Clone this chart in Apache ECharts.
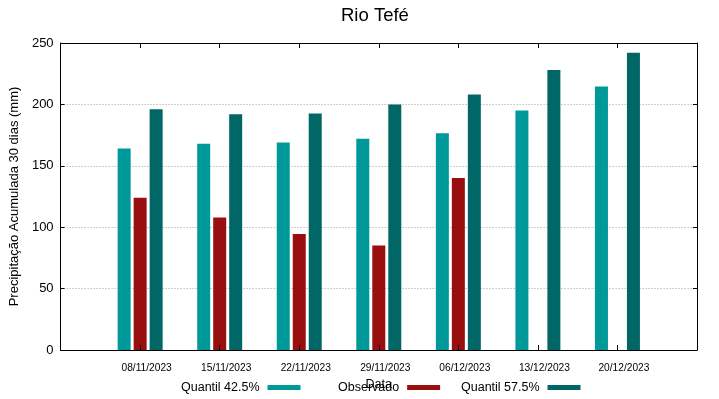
<!DOCTYPE html>
<html>
<head>
<meta charset="utf-8">
<script src="https://cdn.jsdelivr.net/npm/echarts@6/dist/echarts.min.js"></script>
<style>
html, body { margin: 0; padding: 0; background: #fff; }
#demo { width: 719px; height: 399px; }
</style>
</head>
<body>
<div id="demo"></div>
<script>
// dados
var datas = ['08/11/2023', '15/11/2023', '22/11/2023', '29/11/2023', '06/12/2023', '13/12/2023', '20/12/2023'];
var quantil425 = [164, 168, 169, 172, 176.5, 195, 214.5];
var observado = [124, 108, 94.5, 85, 140, null, null];
var quantil575 = [196, 192, 192.5, 200, 208, 228, 242];
var yTicks = [0, 50, 100, 150, 200, 250];
var nomes = ['Quantil 42.5%', 'Observado', 'Quantil 57.5%'];

// uma categoria vazia em cada ponta, para as datas cairem nos ticks 1..7
var categorias = [''].concat(datas, [' ']);
function comPontas(arr) {
    return ['-'].concat(arr.map(function (v) { return v == null ? '-' : v; }), ['-']);
}

var myChart = echarts.init(document.getElementById('demo'));

var fonte = 'Liberation Sans';
var legendaX = [181, 338, 461];

// cada item da legenda numa posicao propria (como no gnuplot)
var legendas = nomes.map(function (n, i) {
    return {
        data: [n],
        left: legendaX[i],
        top: 381,
        padding: 0,
        align: 'right',
        icon: 'rect',
        itemWidth: 33,
        itemHeight: 5,
        textStyle: { fontSize: 12.5, color: '#000', fontFamily: fonte, padding: [0, 3, 0, 0] }
    };
});

function eixoX(pos, comLabel) {
    return {
        type: 'category',
        data: categorias,
        boundaryGap: false,
        position: pos,
        z: 5,
        axisLine: { onZero: false, lineStyle: { color: '#000', width: 1 } },
        axisTick: { inside: true, length: 5, lineStyle: { color: '#000' } },
        axisLabel: { show: comLabel, interval: 0, fontSize: 10.2, color: '#000', margin: 13, padding: [0, 0, 0, 13], fontFamily: fonte },
        splitLine: { show: false }
    };
}

function eixoY(pos) {
    return {
        type: 'value',
        min: yTicks[0],
        max: yTicks[yTicks.length - 1],
        interval: 50,
        position: pos,
        z: 5,
        axisLine: { show: true, onZero: false, lineStyle: { color: '#000', width: 1 } },
        axisTick: { show: true, inside: true, length: 4, lineStyle: { color: '#000' } },
        axisLabel: { show: pos === 'left', fontSize: 13, color: '#000', margin: 7, fontFamily: fonte },
        splitLine: { show: false }
    };
}

var xBase = eixoX('bottom', true);
xBase.name = 'Data';
xBase.nameLocation = 'middle';
xBase.nameGap = 22;
xBase.nameTextStyle = { fontSize: 12.5, color: '#000', fontFamily: fonte };

var yBase = eixoY('left');
yBase.name = 'Precipitação Acumulada 30 dias (mm)';
yBase.nameLocation = 'middle';
yBase.nameGap = 32;
yBase.nameTextStyle = { fontSize: 13, color: '#000', fontFamily: fonte };
yBase.splitLine = { show: true, lineStyle: { color: '#a0a0a0', type: [1, 2], width: 1 } };
yBase.z = 0;

option = {
    animation: false,
    textStyle: { fontFamily: fonte },
    title: {
        text: 'Rio Tefé',
        left: 341,
        top: 6,
        padding: 0,
        textStyle: { fontSize: 18.5, fontWeight: 'normal', color: '#000', fontFamily: fonte }
    },
    color: ['#009999', '#990f0f', '#006666'],
    legend: legendas,
    grid: {
        left: 58,
        right: 22,
        top: 43,
        bottom: 49
    },
    xAxis: [xBase, eixoX('top', false)],
    yAxis: [yBase, eixoY('right')],
    series: [
        {
            name: nomes[0],
            type: 'bar',
            barWidth: 13,
            barGap: '23%',
            data: comPontas(quantil425)
        },
        {
            name: nomes[1],
            type: 'bar',
            barWidth: 13,
            barGap: '23%',
            data: comPontas(observado)
        },
        {
            name: nomes[2],
            type: 'bar',
            barWidth: 13,
            barGap: '23%',
            data: comPontas(quantil575)
        }
    ]
};

myChart.setOption(option);
</script>
</body>
</html>
